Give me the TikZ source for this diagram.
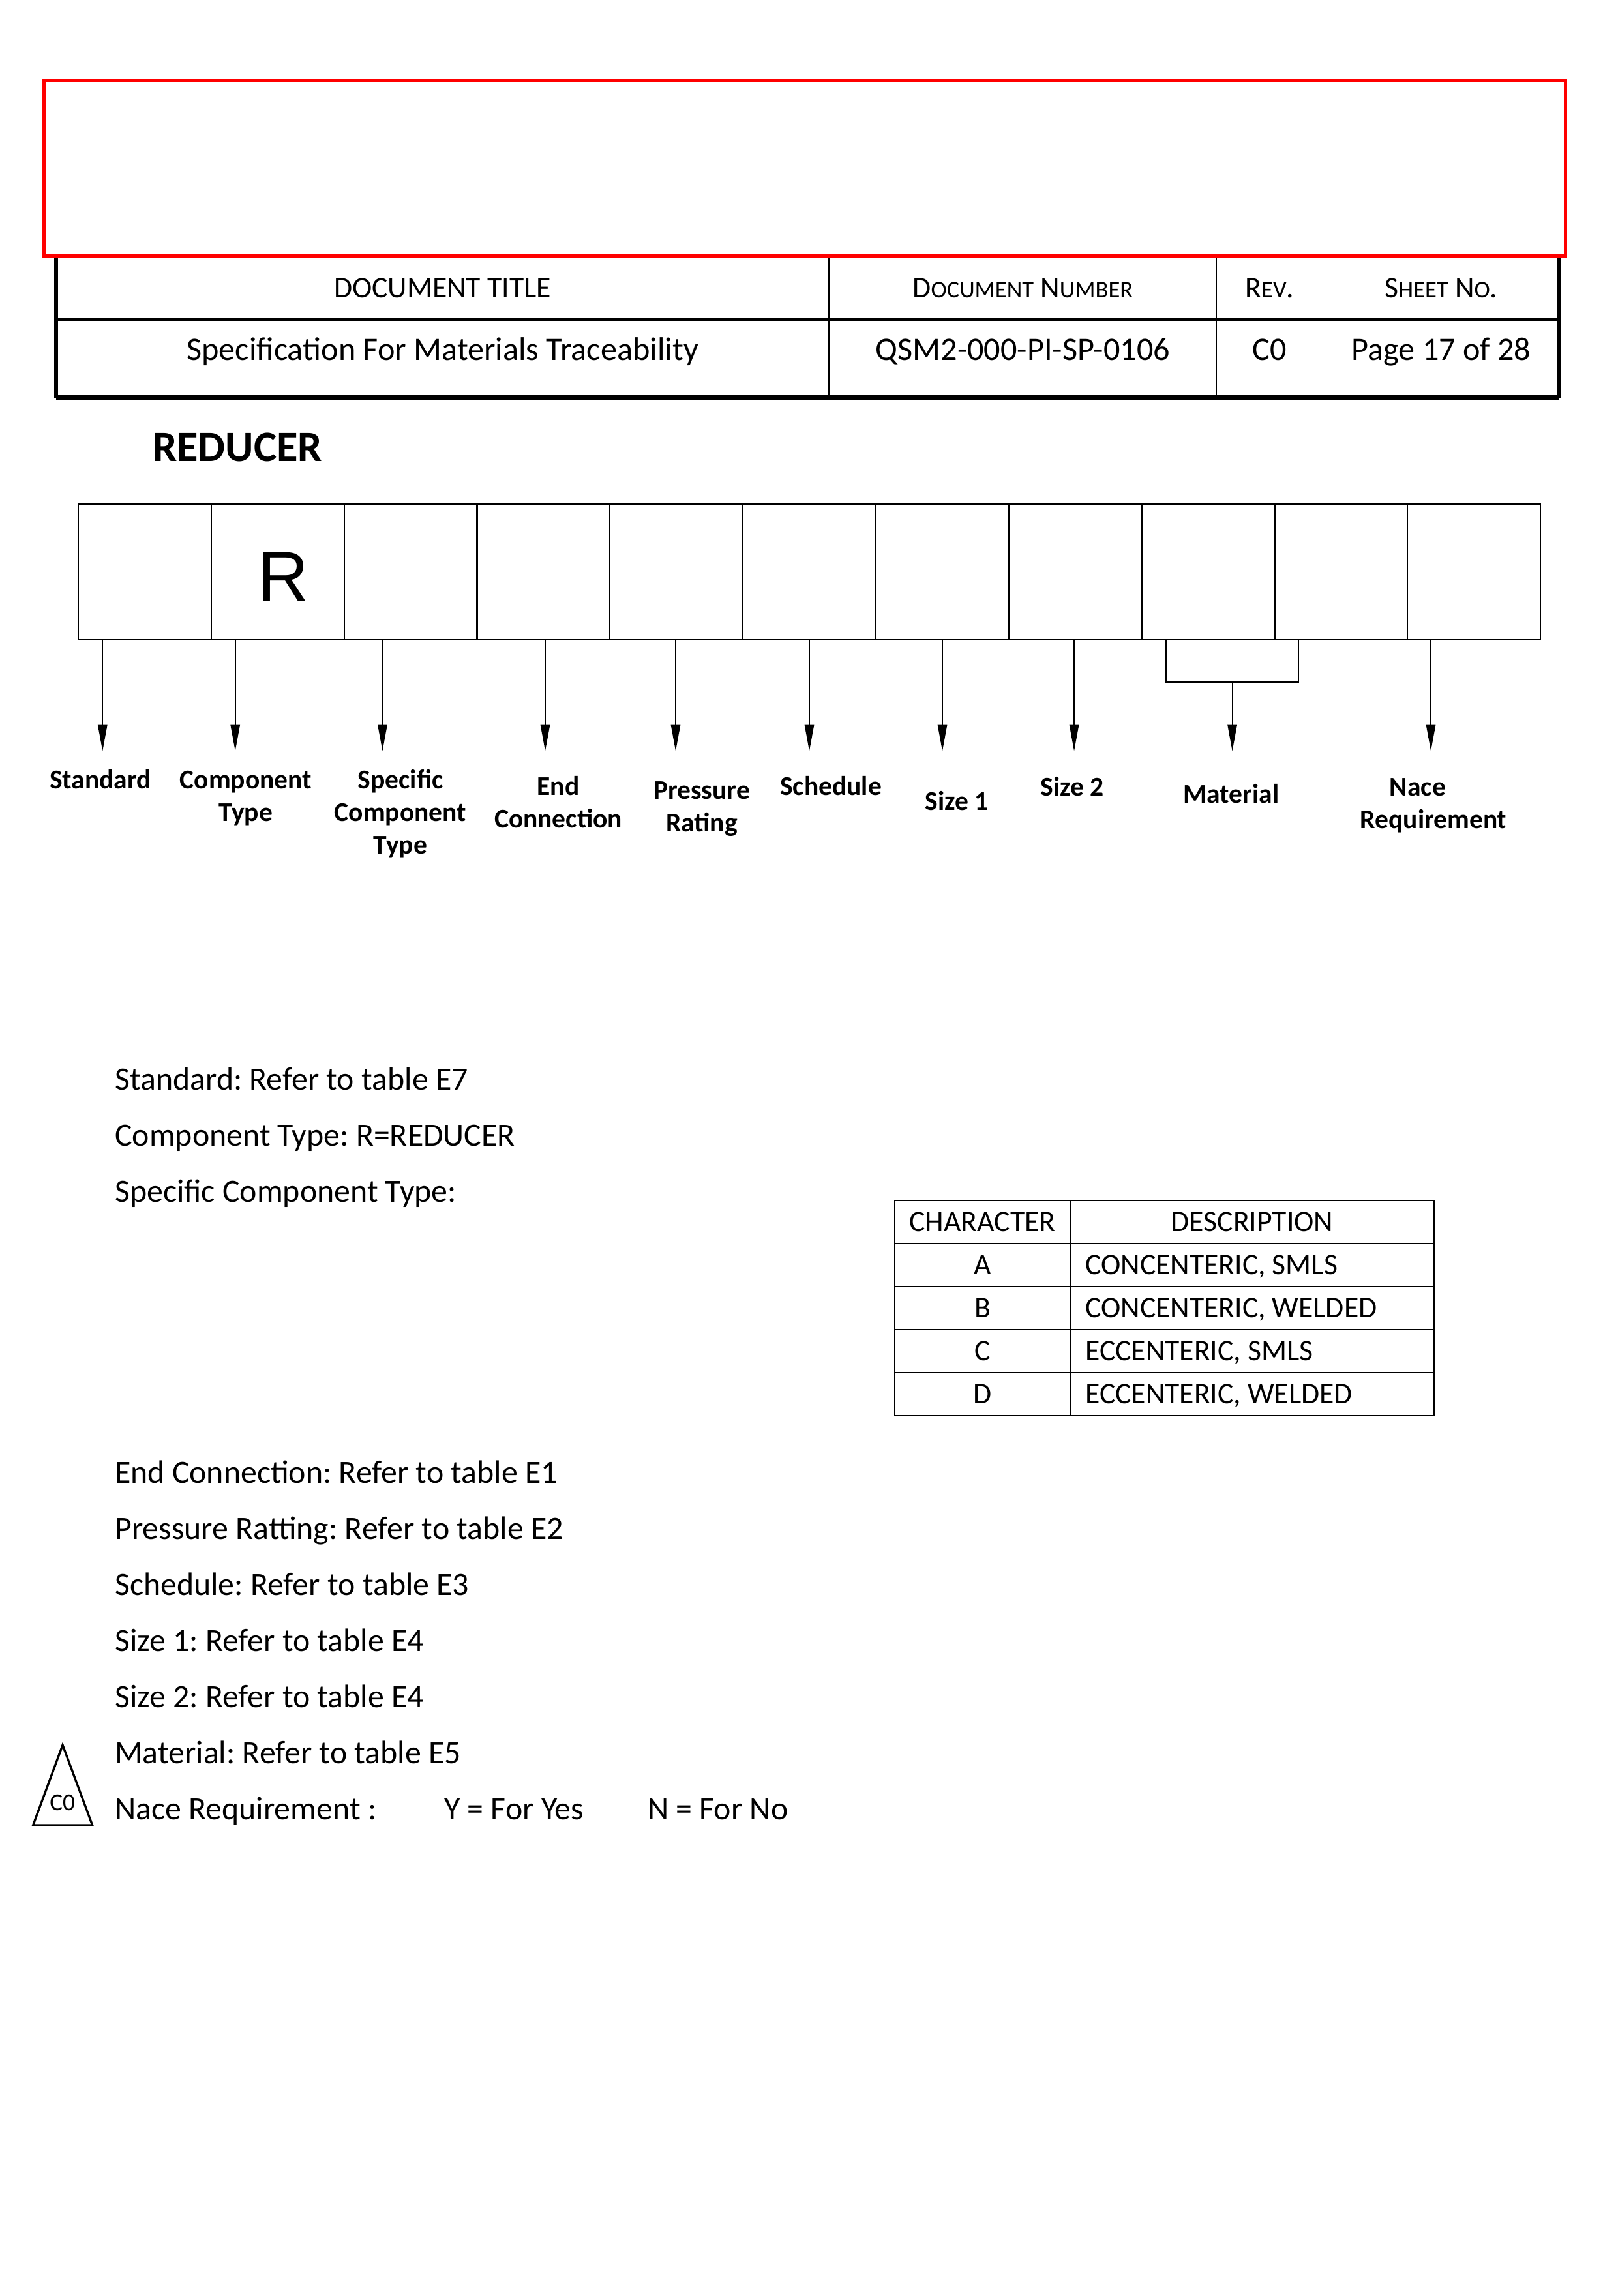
\documentclass[tikz,border=0pt]{standalone}
\usepackage{fontspec}
\setmainfont{Carlito}
\newfontfamily\arialfont{Liberation Sans}
\usetikzlibrary{arrows.meta, positioning}
\definecolor{framered}{HTML}{FF0000}
\frenchspacing
\newcommand{\smc}[1]{{\fontsize{8.8}{10}\selectfont #1}}
\tikzset{
    cell/.style={rectangle, draw, line width=0.5pt, minimum width=17.25mm, minimum height=17.65mm, inner sep=0pt},
    lbl/.style={font=\fontsize{10}{12}\selectfont\bfseries, align=center, anchor=base, inner sep=0pt},
    hdr/.style={font=\fontsize{11}{13}\selectfont, anchor=base, inner sep=0pt},
    val/.style={font=\fontsize{12.1}{14}\selectfont, anchor=base, inner sep=0pt},
    body/.style={font=\fontsize{12}{14}\selectfont, anchor=base west, inner sep=0pt},
    tbl/.style={font=\fontsize{11}{13}\selectfont, anchor=base, inner sep=0pt},
    arr/.style={-{Triangle[length=3.4mm, width=1.2mm]}, line width=0.5pt},
}

\begin{document}
\begin{tikzpicture}[x=1mm, y=-1mm]

\useasboundingbox (0,0) rectangle (210,298.03);

% ── Title block ──
\draw[line width=0.8pt] (7.28,41.48) -- (202.4,41.48);
\draw[line width=0.4pt] (107.6,33.35) -- (107.6,51.63);
\draw[line width=0.4pt] (157.9,33.35) -- (157.9,51.63);
\draw[line width=0.4pt] (171.7,33.35) -- (171.7,51.63);
\draw[line width=1.4pt] (7.28,33.35) -- (7.28,51.63);
\draw[line width=1.4pt] (202.4,33.35) -- (202.4,51.63);
\draw[line width=1.8pt] (7.28,51.63) -- (202.4,51.63);
\draw[framered, line width=1.3pt] (5.71,10.45) rectangle (203.2,33.18);

\node[hdr] (htitle) at (57.44,38.68) {DOCUMENT TITLE};
\node[hdr] (hnum) at (132.75,38.68) {D\smc{OCUMENT} N\smc{UMBER}};
\node[hdr] (hrev) at (164.8,38.68) {R\smc{EV}.};
\node[hdr] (hsheet) at (187.05,38.68) {S\smc{HEET} N\smc{O}.};

\node[val] (vtitle) at (57.44,46.79) {Specification For Materials Traceability};
\node[val] (vnum) at (132.75,46.79) {QSM2-000-PI-SP-0106};
\node[val] (vrev) at (164.8,46.79) {C0};
\node[val] (vsheet) at (187.05,46.79) {Page 17 of 28};

\node[font=\fontsize{16}{19}\selectfont\bfseries, anchor=base west, inner sep=0pt] (title) at (19.75,59.9) {REDUCER};

% ── Code boxes ──
\foreach \i in {1,...,11}
    \node[cell] (c\i) at ({10.16+17.2525*(\i-0.5)},74.215) {};
\node[font=\arialfont\fontsize{26}{30}\selectfont, anchor=base, inner sep=0pt] (rcode) at (36.78,78.04) {R};

% ── Arrows ──
\foreach \c/\x in {1/13.31, 2/30.53, 3/49.64, 4/70.76, 5/87.69, 6/105.04, 7/122.31, 8/139.41, 11/185.71} {
    \coordinate (t\c) at (\x,97.49);
    \draw[arr] (c\c.south -| t\c) -- (t\c);
}
\coordinate (mleft) at (151.35,88.54);
\coordinate (mright) at (168.53,88.54);
\coordinate (tmat) at (159.94,97.49);
\draw[line width=0.5pt] (c9.south -| mleft) |- (mright) -- (c10.south -| mright);
\draw[arr] (mleft -| tmat) -- (tmat);

% ── Labels (base = last line) ──
\node[lbl] (lstd) at (13.04,102.34) {Standard};
\node[lbl] (lcomp) at (31.91,106.63) {Component\\Type};
\node[lbl] (lspec) at (51.97,110.81) {Specific\\Component\\Type};
\node[lbl] (lend) at (72.46,107.43) {End\\Connection};
\node[lbl] (lpress) at (91.08,107.95) {Pressure\\Rating};
\node[lbl] (lsched) at (107.84,103.2) {Schedule};
\node[lbl] (lsize1) at (124.17,105.2) {Size 1};
\node[lbl] (lsize2) at (139.16,103.27) {Size 2};
\node[lbl] (lmat) at (159.8,104.28) {Material};
\node[lbl] (lnace) at (186.05,107.5) {Nace\hspace*{4.1mm}\\Requirement};

% ── Notes ──
\foreach \k/\t in {0/Standard: Refer to table E7, 1/Component Type: R=REDUCER, 2/Specific Component Type:,
    7/End Connection: Refer to table E1, 8/Pressure Ratting: Refer to table E2, 9/Schedule: Refer to table E3,
    10/Size 1: Refer to table E4, 11/Size 2: Refer to table E4, 12/Material: Refer to table E5, 13/Nace Requirement :}
    \node[body] (note\k) at (14.85,{141.49+7.284*\k}) {\t};
\node[body] (yes) at (57.6,236.18) {Y = For Yes};
\node[body] (no) at (84.0,236.18) {N = For No};

% ── Character table ──
\draw[line width=0.7pt] (116.13,155.83) rectangle (186.13,183.76);
\draw[line width=0.7pt] (138.9,155.83) -- (138.9,183.76);
\foreach \r in {1,...,4}
    \draw[line width=0.7pt] (116.13,{155.83+5.586*\r}) -- (186.13,{155.83+5.586*\r});
\node[tbl] (hchar) at (127.52,159.89) {CHARACTER};
\node[tbl] (hdesc) at (162.52,159.89) {DESCRIPTION};
\foreach \r/\ch/\d in {1/A/{CONCENTERIC, SMLS}, 2/B/{CONCENTERIC, WELDED}, 3/C/{ECCENTERIC, SMLS}, 4/D/{ECCENTERIC, WELDED}} {
    \node[tbl] (ch\r) at (127.52,{159.89+5.586*\r}) {\ch};
    \node[tbl, anchor=base west] (de\r) at (140.8,{159.89+5.586*\r}) {\d};
}

% ── Revision mark ──
\draw[line width=0.8pt] (8.13,226.51) -- (11.99,236.92) -- (4.29,236.92) -- cycle;
\node[font=\fontsize{9}{11}\selectfont, anchor=base, inner sep=0pt] (rev) at (8.1,235.05) {C0};

\end{tikzpicture}
\end{document}
